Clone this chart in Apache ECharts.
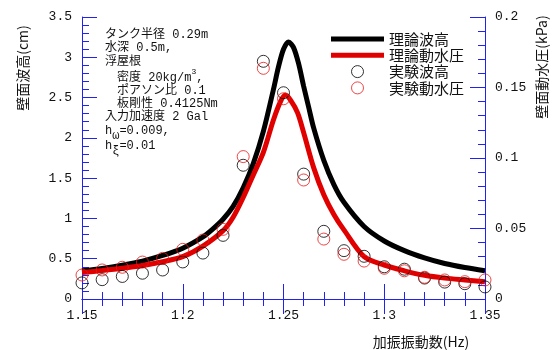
<!DOCTYPE html>
<html>
<head>
<meta charset="utf-8">
<script src="https://cdn.jsdelivr.net/npm/echarts@6/dist/echarts.min.js"></script>
<style>
html, body { margin: 0; padding: 0; background: #fff; }
#chart { width: 555px; height: 350px; }
</style>
</head>
<body>
<div id="chart"></div>
<script>
// Theoretical wall wave height (cm) against excitation frequency (Hz)
const thFreqWave = [1.15, 1.16, 1.17, 1.18, 1.19, 1.20, 1.21, 1.215, 1.22, 1.225, 1.23, 1.235, 1.24, 1.245, 1.2475, 1.25, 1.2525, 1.255, 1.2575, 1.26, 1.2625, 1.265, 1.27, 1.275, 1.28, 1.29, 1.30, 1.31, 1.32, 1.33, 1.34, 1.35];
const thWave = [0.35, 0.38, 0.42, 0.47, 0.54, 0.63, 0.77, 0.87, 0.99, 1.15, 1.38, 1.68, 2.08, 2.60, 2.88, 3.10, 3.19, 3.12, 2.92, 2.64, 2.38, 2.12, 1.72, 1.42, 1.20, 0.90, 0.72, 0.60, 0.51, 0.44, 0.39, 0.35];

// Theoretical wall dynamic pressure (kPa)
const thFreqPress = [1.15, 1.16, 1.17, 1.18, 1.19, 1.20, 1.21, 1.22, 1.225, 1.23, 1.235, 1.24, 1.245, 1.2485, 1.251, 1.2535, 1.257, 1.26, 1.265, 1.27, 1.275, 1.28, 1.29, 1.30, 1.31, 1.32, 1.33, 1.34, 1.35];
const thPress = [0.0188, 0.0202, 0.0218, 0.0238, 0.0264, 0.0300, 0.0375, 0.0485, 0.058, 0.072, 0.088, 0.104, 0.127, 0.140, 0.1446, 0.141, 0.132, 0.118, 0.093, 0.074, 0.060, 0.049, 0.030, 0.024, 0.020, 0.0168, 0.0148, 0.0135, 0.0123];

// Measured values
const exFreq = [1.15, 1.16, 1.17, 1.18, 1.19, 1.20, 1.21, 1.22, 1.23, 1.24, 1.25, 1.26, 1.27, 1.28, 1.29, 1.30, 1.31, 1.32, 1.33, 1.34, 1.35];
const exWave = [0.20, 0.24, 0.28, 0.32, 0.36, 0.46, 0.57, 0.79, 1.66, 2.95, 2.56, 1.55, 0.84, 0.60, 0.53, 0.40, 0.37, 0.26, 0.21, 0.19, 0.15];
const exPress = [0.0170, 0.0206, 0.0225, 0.0262, 0.0288, 0.0352, 0.0418, 0.0494, 0.101, 0.1636, 0.142, 0.0844, 0.0425, 0.0317, 0.0269, 0.0218, 0.0200, 0.0154, 0.0135, 0.0123, 0.0135];

// Axis ranges
const freqRange = [1.15, 1.35, 0.05];
const waveRange = [0, 3.5, 0.5];
const pressRange = [0, 0.2, 0.05];

const seriesNames = ['理論波高', '理論動水圧', '実験波高', '実験動水圧'];

// Condition notes
const noteLines = [
  { x: 105, y: 35, text: 'タンク半径 0.29m' },
  { x: 105, y: 48, text: '水深 0.5m,' },
  { x: 105, y: 62, text: '浮屋根' },
  { x: 117, y: 78, text: '密度 20kg/m{sup|3},' },
  { x: 117, y: 91, text: 'ポアソン比 0.1' },
  { x: 117, y: 104, text: '板剛性 0.4125Nm' },
  { x: 105, y: 117, text: '入力加速度 2 Gal' },
  { x: 105, y: 131, text: 'h{sub|ω}=0.009,' },
  { x: 105, y: 146, text: 'h{sub|ξ}=0.01' }
];

const zip = (xs, ys) => xs.map((x, i) => [x, ys[i]]);

const BLUE = '#2222ee';
const MONO = "'Liberation Mono', 'Noto Sans CJK JP', monospace";
const JP = "'Noto Sans CJK JP', sans-serif";
const BAR_ICON = 'path://M0 0H53V5H0Z';

function valueAxis(range, extra) {
  return Object.assign({
    type: 'value',
    min: range[0],
    max: range[1],
    interval: range[2],
    axisLine: { show: true, lineStyle: { color: BLUE, width: 1 } },
    axisTick: { show: true, inside: true, length: 15, lineStyle: { color: BLUE, width: 1 } },
    minorTick: { show: true, splitNumber: 5, length: 7, lineStyle: { color: BLUE, width: 1 } },
    splitLine: { show: false },
    minorSplitLine: { show: false },
    axisLabel: { color: '#111', fontFamily: MONO, fontSize: 13, margin: 10 }
  }, extra || {});
}

const chart = echarts.init(document.getElementById('chart'), null, { renderer: 'canvas' });

const graphics = noteLines.map(l => ({
  type: 'text',
  x: l.x,
  y: l.y,
  silent: true,
  style: {
    text: l.text,
    fill: '#111',
    font: "12px " + MONO,
    verticalAlign: 'middle',
    align: 'left',
    rich: {
      sup: { fontSize: 8, fontFamily: MONO, verticalAlign: 'top', lineHeight: 20, fill: '#111' },
      sub: { fontSize: 12, fontFamily: MONO, verticalAlign: 'bottom', lineHeight: 21, fill: '#111' }
    }
  }
}));

graphics.push(
  { type: 'text', x: 23, y: 68, rotation: Math.PI / 2, silent: true,
    style: { text: '壁面波高(cm)', fill: '#111', font: '14px ' + JP, align: 'center', verticalAlign: 'middle' } },
  { type: 'text', x: 542, y: 67, rotation: Math.PI / 2, silent: true,
    style: { text: '壁面動水圧(kPa)', fill: '#111', font: '14px ' + JP, align: 'center', verticalAlign: 'middle' } },
  { type: 'text', x: 421, y: 342, silent: true,
    style: { text: '加振振動数(Hz)', fill: '#111', font: '14px ' + JP, align: 'center', verticalAlign: 'middle' } }
);

chart.setOption({
  animation: false,
  backgroundColor: '#fff',
  grid: { left: 82, right: 70, top: 17, bottom: 51, containLabel: false },
  xAxis: [
    valueAxis(freqRange, { position: 'bottom' }),
    valueAxis(freqRange, { position: 'top', axisLabel: { show: false } })
  ],
  yAxis: [
    valueAxis(waveRange, { position: 'left' }),
    valueAxis(pressRange, { position: 'right' })
  ],
  legend: {
    orient: 'vertical',
    left: 331,
    top: 31,
    itemWidth: 53,
    itemHeight: 12,
    itemGap: 0.3,
    padding: 0,
    selectedMode: false,
    symbolKeepAspect: true,
    textStyle: { color: '#111', fontFamily: JP, fontSize: 15, lineHeight: 16 },
    data: [
      { name: seriesNames[0], icon: BAR_ICON, itemStyle: { color: '#000', borderWidth: 0 } },
      { name: seriesNames[1], icon: BAR_ICON, itemStyle: { color: '#e00000', borderWidth: 0 } },
      { name: seriesNames[2], icon: 'circle', itemStyle: { color: 'rgba(0,0,0,0)', borderColor: '#000', borderWidth: 1 } },
      { name: seriesNames[3], icon: 'circle', itemStyle: { color: 'rgba(0,0,0,0)', borderColor: '#e8191a', borderWidth: 1 } }
    ]
  },
  graphic: graphics,
  series: [
    {
      name: seriesNames[0], type: 'line', xAxisIndex: 0, yAxisIndex: 0,
      data: zip(thFreqWave, thWave), smooth: 0.3, symbol: 'none',
      lineStyle: { color: '#000', width: 5 }, itemStyle: { color: '#000' }, z: 2
    },
    {
      name: seriesNames[1], type: 'line', xAxisIndex: 0, yAxisIndex: 1,
      data: zip(thFreqPress, thPress), smooth: 0.3, symbol: 'none',
      lineStyle: { color: '#e00000', width: 5 }, itemStyle: { color: '#e00000' }, z: 2
    },
    {
      name: seriesNames[2], type: 'scatter', xAxisIndex: 0, yAxisIndex: 0,
      data: zip(exFreq, exWave), symbol: 'circle', symbolSize: 12,
      itemStyle: { color: 'rgba(0,0,0,0)', borderColor: '#000', borderWidth: 1 }, z: 3
    },
    {
      name: seriesNames[3], type: 'scatter', xAxisIndex: 0, yAxisIndex: 1,
      data: zip(exFreq, exPress), symbol: 'circle', symbolSize: 12,
      itemStyle: { color: 'rgba(0,0,0,0)', borderColor: '#e8191a', borderWidth: 1 }, z: 3
    }
  ]
});
</script>
</body>
</html>
